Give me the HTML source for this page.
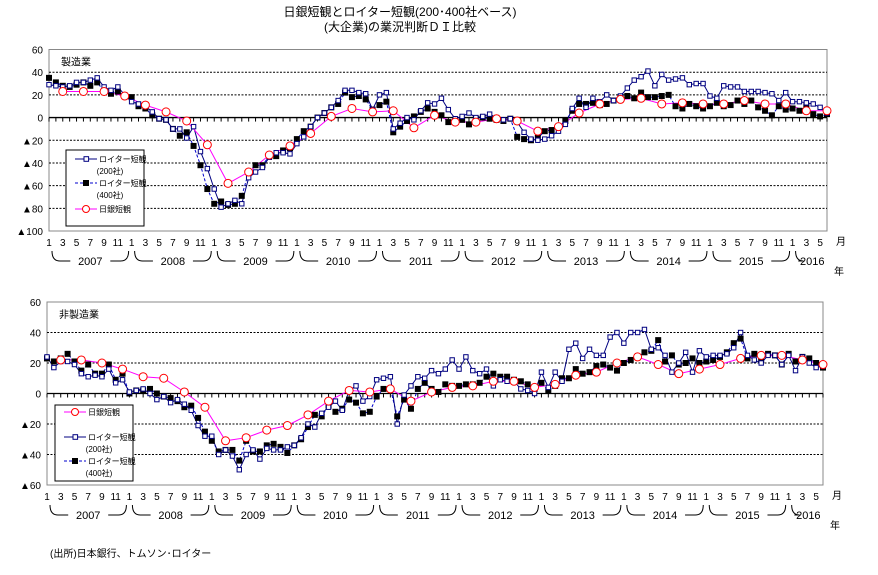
<!DOCTYPE html>
<html><head><meta charset="utf-8"><style>
body{margin:0;background:#fff;width:878px;height:570px;overflow:hidden}
svg text{font-family:"Liberation Sans","Noto Sans CJK JP",sans-serif;fill:#000}
</style></head><body>
<svg id="s" width="878" height="570" xmlns="http://www.w3.org/2000/svg">
<text x="400" y="16" font-size="12" text-anchor="middle">日銀短観とロイター短観(200･400社ベース)</text>
<text x="400" y="31" font-size="12" text-anchor="middle">(大企業)の業況判断ＤＩ比較</text>
<text x="50" y="557" font-size="10">(出所)日本銀行、トムソン･ロイター</text>
</svg>
<script>
var S=document.getElementById('s'),NS='http://www.w3.org/2000/svg';
function el(t,a,txt){var e=document.createElementNS(NS,t);for(var k in a)e.setAttribute(k,a[k]);if(txt!=null)e.textContent=txt;S.appendChild(e);return e;}
var M1=[29,28,27,28,31,31,33,35,27,24,27,20,14,12,10,5,-1,-2,-10,-10,-18,-8,-30,-45,-63,-79,-76,-73,-76,-53,-48,-44,-35,-31,-31,-32,-23,-17,-8,0,4,9,15,24,24,22,21,7,20,22,-10,-5,0,-2,6,13,12,17,7,-1,1,4,0,1,3,0,-2,-1,-4,-13,-19,-20,-19,-16,-12,-6,8,17,9,17,14,20,15,19,26,33,36,41,28,38,33,34,35,29,30,30,19,17,28,27,27,23,23,23,22,21,15,22,14,14,13,12,9,4];
var M2=[35,31,28,27,29,31,28,31,23,21,23,19,18,10,8,2,-1,-2,-10,-16,-13,-25,-42,-63,-76,-74,-77,-76,-69,-48,-42,-42,-34,-34,-29,-27,-19,-12,-8,0,4,9,12,22,18,19,16,7,11,14,-13,-8,-3,1,5,8,5,2,-4,-3,-2,-6,-1,0,-1,-2,-3,-1,-17,-19,-20,-18,-12,-11,-8,-3,6,12,12,13,11,12,15,18,19,17,22,18,18,19,20,10,8,12,10,8,10,13,10,11,15,12,15,9,6,2,10,7,8,6,10,3,1,3];
var MT=[23,23,23,19,11,5,-3,-24,-58,-48,-33,-25,-14,1,8,5,6,-9,2,-4,-4,-1,-3,-12,-8,4,12,16,17,12,13,12,12,15,12,12,6,6];
var N1=[24,17,21,21,19,13,11,12,11,16,7,9,1,2,3,0,-4,-2,-6,-4,-7,-11,-21,-28,-28,-40,-37,-41,-50,-40,-37,-43,-36,-37,-37,-35,-34,-29,-20,-22,-13,-9,-5,-11,2,5,-5,-2,9,10,11,-20,-1,5,11,10,15,13,16,22,16,24,15,13,16,5,9,8,8,3,2,0,14,4,14,8,29,33,23,29,25,25,37,40,33,40,40,42,29,30,25,14,20,27,14,28,24,25,25,26,30,40,25,22,20,25,25,19,25,15,24,20,17,18];
var N2=[23,21,23,26,21,15,19,13,13,19,9,13,0,2,2,3,0,-2,-3,-5,-9,-8,-16,-25,-31,-38,-37,-37,-44,-31,-38,-38,-34,-33,-35,-39,-34,-30,-22,-14,-15,-8,-12,-10,-4,-6,-13,-12,-2,3,3,-15,-4,-10,3,7,3,1,6,5,5,6,6,7,11,13,11,11,9,8,6,3,7,2,5,10,10,16,13,14,18,19,17,15,20,22,24,27,28,35,21,25,19,20,23,20,21,22,24,27,33,36,23,26,22,26,25,19,26,21,24,23,20,17];
var NT=[22,22,20,16,11,10,1,-9,-31,-29,-24,-21,-14,-5,2,1,3,-5,1,4,5,8,8,4,6,12,14,20,24,19,13,16,19,23,25,25,22,19];
function chart(c){
 var L=c.L,R=c.R,T=c.T,B=c.B,vmax=c.vmax,vmin=c.vmin;
 var Y=function(v){return T+(vmax-v)*(B-T)/(vmax-vmin)};
 var X=function(m){return L+m*(R-L)/113};
 el('rect',{x:L,y:T,width:R-L,height:B-T,fill:'none',stroke:'#888','stroke-width':1});
 for(var v=vmax;v>=vmin;v-=20){
  var y=Y(v);
  if(v!=0&&v!=vmax&&v!=vmin)el('line',{x1:L,x2:R,y1:y,y2:y,stroke:'#000','stroke-dasharray':'2,1.5','stroke-width':1});
  el('text',{x:L-6,y:y+4,'font-size':10,'text-anchor':'end'},(v<0?'▲':'')+Math.abs(v));
 }
 var y0=Y(0);
 el('line',{x1:L,x2:R,y1:y0,y2:y0,stroke:'#000','stroke-width':1.3});
 for(var m=0;m<=113;m++)el('line',{x1:X(m),x2:X(m),y1:y0,y2:y0+4,stroke:'#000','stroke-width':1});
 el('text',{x:L+12,y:T+16,'font-size':10},c.name);
 for(var m=0;m<=113;m+=2){var mo=m%12+1;el('text',{x:X(m),y:B+15,'font-size':10,'text-anchor':'middle'},mo);}
 el('text',{x:R+14,y:B+14,'font-size':10,'text-anchor':'middle'},'月');
 el('text',{x:R+12,y:B+44,'font-size':10,'text-anchor':'middle'},'年');
 for(var yr=0;yr<10;yr++){
  var last=yr==9;
  var a=X(yr*12)+3,b=last?X(113)+2:X(yr*12+12)-3,yb=B+30,mid=(a+b)/2,g=last?14:20;
  var d='M'+a+','+(B+20)+' Q'+a+','+yb+' '+(a+8)+','+yb+' L'+(mid-g)+','+yb;
  if(!last)d+=' M'+(mid+g)+','+yb+' L'+(b-8)+','+yb+' Q'+b+','+yb+' '+b+','+(B+20);
  el('path',{d:d,fill:'none',stroke:'#000','stroke-width':1});
  el('text',{x:mid,y:yb+4,'font-size':11,'text-anchor':'middle'},2007+yr);
 }
 function line(d,xs,st,dash){var p='';d.forEach(function(v,i){p+=(i?'L':'M')+xs(i).toFixed(1)+','+Y(v).toFixed(1)});el('path',{d:p,fill:'none',stroke:st,'stroke-width':1,'stroke-dasharray':dash||'none'});}
 var xm=X,xq=function(i){return X(2+3*i)};
 line(c.s2,xm,'#0000cc','3,2');
 line(c.s1,xm,'#000080');
 line(c.st,xq,'#ff00ff');
 c.s2.forEach(function(v,i){el('rect',{x:X(i)-3,y:Y(v)-3,width:6,height:6,fill:'#000'})});
 c.s1.forEach(function(v,i){el('rect',{x:X(i)-2.2,y:Y(v)-2.2,width:4.4,height:4.4,fill:'#fff',stroke:'#000080','stroke-width':1})});
 c.st.forEach(function(v,i){el('circle',{cx:xq(i),cy:Y(v),r:4,fill:'#fff',stroke:'#ff0000','stroke-width':1})});
 var g=c.lg;
 el('rect',{x:g.x,y:g.y,width:78,height:76,fill:'#fff',stroke:'#000','stroke-width':1});
 g.items.forEach(function(it){
  var yy=g.y+it.dy;
  el('line',{x1:g.x+9,x2:g.x+31,y1:yy,y2:yy,stroke:it.c,'stroke-width':1,'stroke-dasharray':it.dash||'none'});
  if(it.t=='o')el('rect',{x:g.x+18,y:yy-2.3,width:4.6,height:4.6,fill:'#fff',stroke:'#000080'});
  if(it.t=='f')el('rect',{x:g.x+17,y:yy-3,width:6,height:6,fill:'#000'});
  if(it.t=='c')el('circle',{cx:g.x+20,cy:yy,r:3.5,fill:'#fff',stroke:'#f00'});
  el('text',{x:g.x+33,y:yy+3,'font-size':8},it.l);
  if(it.s)el('text',{x:g.x+44,y:yy+15,'font-size':8,'text-anchor':'middle'},it.s);
 });
}
var I1={c:'#000080',t:'o',l:'ロイター短観',s:'(200社)'},I2={c:'#0000cc',dash:'3,2',t:'f',l:'ロイター短観',s:'(400社)'},I3={c:'#ff00ff',t:'c',l:'日銀短観'};
chart({L:49,R:827,T:49.5,B:231,vmax:60,vmin:-100,name:'製造業',s1:M1,s2:M2,st:MT,
 lg:{x:66,y:150,items:[Object.assign({dy:9},I1),Object.assign({dy:33},I2),Object.assign({dy:59},I3)]}});
chart({L:47,R:823,T:302,B:485,vmax:60,vmin:-60,name:'非製造業',s1:N1,s2:N2,st:NT,
 lg:{x:55,y:405,items:[Object.assign({dy:7},I3),Object.assign({dy:32},I1),Object.assign({dy:56},I2)]}});
</script>
</body></html>
